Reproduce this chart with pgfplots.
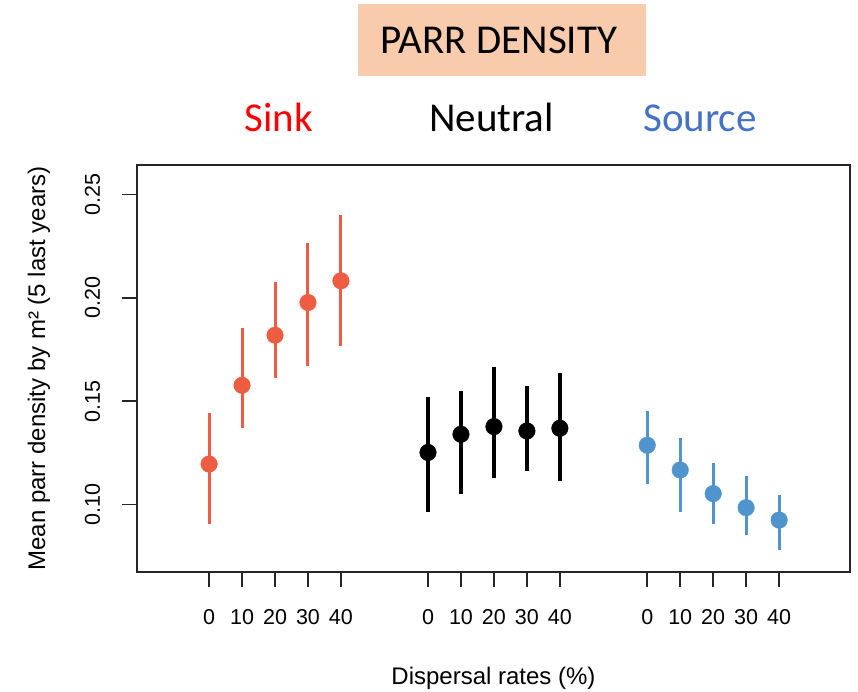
\documentclass[border=0pt]{standalone}
\usepackage{fontspec}
\setmainfont{Liberation Sans}
\newfontfamily\carlito{Carlito}
\usepackage{pgfplots}
\usepackage{pgfplotstable}
\pgfplotsset{compat=1.18}
\definecolor{sinkc}{HTML}{EE5C42}
\definecolor{sourcec}{HTML}{4F94CD}
\definecolor{titlebg}{HTML}{F8CBAD}
\definecolor{sinklab}{HTML}{FF0000}
\definecolor{sourcelab}{HTML}{4472C4}

\pgfplotstableread{
x y lo hi
1 0.1196 0.0905 0.1443
2 0.1577 0.1368 0.1852
3 0.1819 0.1611 0.2074
4 0.1977 0.1671 0.2264
5 0.2082 0.1766 0.2398
}\sink
\pgfplotstableread{
x y lo hi
7.64 0.1252 0.0963 0.1521
8.64 0.1340 0.1050 0.1548
9.64 0.1377 0.1129 0.1664
10.64 0.1356 0.1160 0.1571
11.64 0.1369 0.1114 0.1637
}\neutral
\pgfplotstableread{
x y lo hi
14.29 0.1287 0.1100 0.1453
15.29 0.1167 0.0963 0.1322
16.29 0.1053 0.0905 0.1203
17.29 0.0985 0.0855 0.1137
18.29 0.0925 0.0782 0.1044
}\source

\begin{document}
\begin{tikzpicture}[x=1pt,y=1pt]
\path[use as bounding box] (0,0) rectangle (858,692);
\fill[titlebg] (358,616) rectangle (646,688);
\node[anchor=base, inner sep=0pt, font=\carlito\fontsize{41}{45}\selectfont] at (499,638) {PARR DENSITY};
\node[anchor=base, inner sep=0pt, text=sinklab, font=\carlito\fontsize{41}{45}\selectfont] at (279,560) {Sink};
\node[anchor=base, inner sep=0pt, text=black, font=\carlito\fontsize{41}{45}\selectfont] at (491.5,560) {Neutral};
\node[anchor=base, inner sep=0pt, text=sourcelab, font=\carlito\fontsize{41}{45}\selectfont] at (700,560) {Source};
\begin{axis}[
  at={(137pt,120pt)}, anchor=south west,
  scale only axis, width=713pt, height=407pt,
  xmin=-1.186, xmax=20.44, ymin=0.0674, ymax=0.2642,
  axis line style={line width=1.6pt, black!85},
  every tick/.style={line width=1.6pt, black!85},
  tick align=outside, major tick length=15pt,
  xtick pos=bottom, ytick pos=left,
  xtick={1,2,3,4,5,7.64,8.64,9.64,10.64,11.64,14.29,15.29,16.29,17.29,18.29},
  xticklabels={0,10,20,30,40,0,10,20,30,40,0,10,20,30,40},
  ytick={0.10,0.15,0.20,0.25},
  yticklabels={0.10,0.15,0.20,0.25},
  tick label style={font=\fontsize{21.5}{24}\selectfont, text=black},
  xticklabel style={anchor=base, yshift=-37pt},
  yticklabel style={rotate=90, anchor=base},
  yticklabel shift=22pt,
  xlabel={Dispersal rates (\%)},
  ylabel={Mean parr density by m² (5 last years)},
  label style={font=\fontsize{24}{28}\selectfont},
  xlabel style={at={(axis description cs:0.5,-0.2776)}, anchor=base},
  ylabel style={at={(axis description cs:-0.129,0.5)}, anchor=base, rotate=0},
  clip=false,
]
\addplot[only marks, mark=*, mark size=8.3pt, color=sinkc,
  error bars/.cd, y dir=both, y explicit, error mark=none,
  error bar style={line width=3pt, sinkc}]
  table[x=x, y=y, y error plus expr=\thisrow{hi}-\thisrow{y}, y error minus expr=\thisrow{y}-\thisrow{lo}] {\sink};
\addplot[only marks, mark=*, mark size=8.3pt, color=black,
  error bars/.cd, y dir=both, y explicit, error mark=none,
  error bar style={line width=4pt, black}]
  table[x=x, y=y, y error plus expr=\thisrow{hi}-\thisrow{y}, y error minus expr=\thisrow{y}-\thisrow{lo}] {\neutral};
\addplot[only marks, mark=*, mark size=8.3pt, color=sourcec,
  error bars/.cd, y dir=both, y explicit, error mark=none,
  error bar style={line width=3pt, sourcec}]
  table[x=x, y=y, y error plus expr=\thisrow{hi}-\thisrow{y}, y error minus expr=\thisrow{y}-\thisrow{lo}] {\source};
\end{axis}
\end{tikzpicture}
\end{document}
